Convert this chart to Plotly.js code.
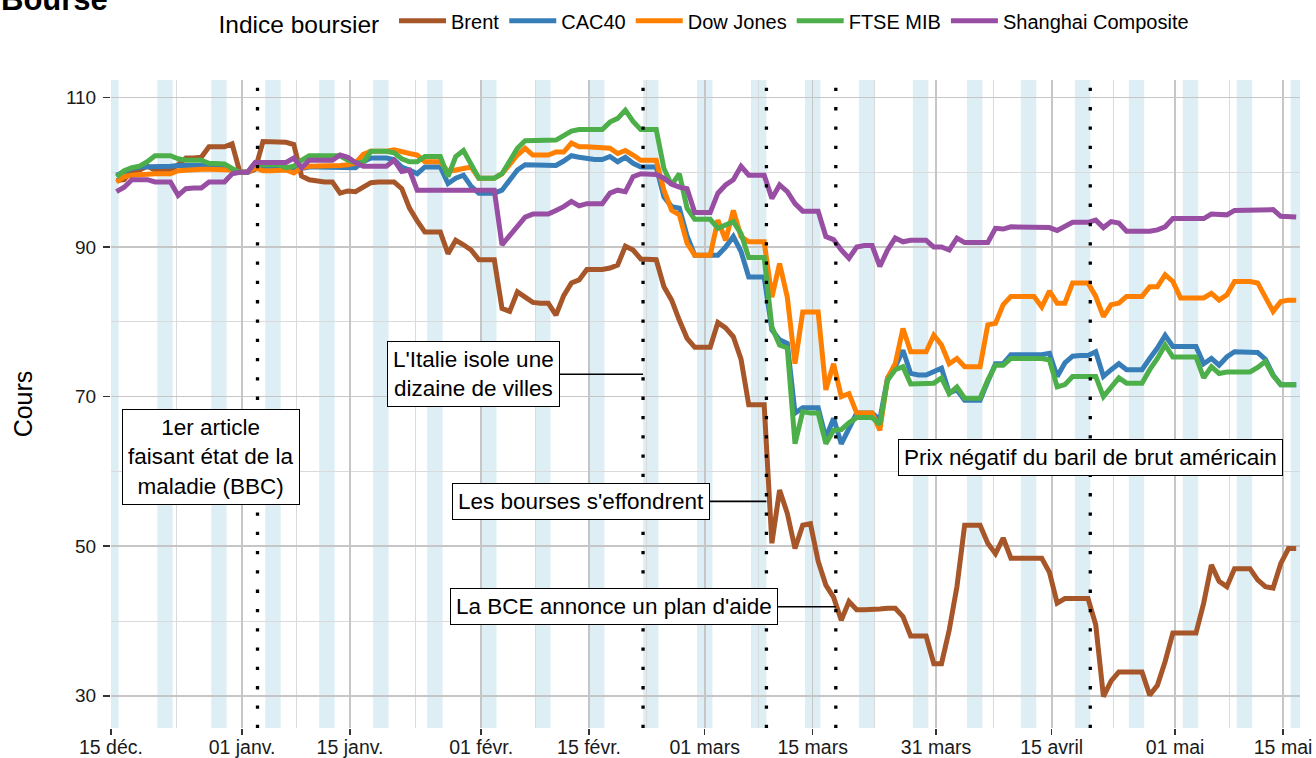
<!DOCTYPE html>
<html><head><meta charset="utf-8">
<script src="https://cdn.plot.ly/plotly-3.0.1.min.js"></script>
<style>html,body{margin:0;padding:0;background:#fff;}#chart{width:1316px;height:758px;}</style>
</head><body><div id="chart"></div>
<script>
const dates = [
"2019-12-15","2019-12-16","2019-12-17","2019-12-18","2019-12-19","2019-12-20","2019-12-21","2019-12-22","2019-12-23","2019-12-24","2019-12-25","2019-12-26","2019-12-27","2019-12-28","2019-12-29","2019-12-30","2019-12-31",
"2020-01-01","2020-01-02","2020-01-03","2020-01-04","2020-01-05","2020-01-06","2020-01-07","2020-01-08","2020-01-09","2020-01-10","2020-01-11","2020-01-12","2020-01-13","2020-01-14","2020-01-15","2020-01-16","2020-01-17","2020-01-18","2020-01-19","2020-01-20","2020-01-21","2020-01-22","2020-01-23","2020-01-24","2020-01-25","2020-01-26","2020-01-27","2020-01-28","2020-01-29","2020-01-30","2020-01-31",
"2020-02-01","2020-02-02","2020-02-03","2020-02-04","2020-02-05","2020-02-06","2020-02-07","2020-02-08","2020-02-09","2020-02-10","2020-02-11","2020-02-12","2020-02-13","2020-02-14","2020-02-15","2020-02-16","2020-02-17","2020-02-18","2020-02-19","2020-02-20","2020-02-21","2020-02-22","2020-02-23","2020-02-24","2020-02-25","2020-02-26","2020-02-27","2020-02-28","2020-02-29",
"2020-03-01","2020-03-02","2020-03-03","2020-03-04","2020-03-05","2020-03-06","2020-03-07","2020-03-08","2020-03-09","2020-03-10","2020-03-11","2020-03-12","2020-03-13","2020-03-14","2020-03-15","2020-03-16","2020-03-17","2020-03-18","2020-03-19","2020-03-20","2020-03-21","2020-03-22","2020-03-23","2020-03-24","2020-03-25","2020-03-26","2020-03-27","2020-03-28","2020-03-29","2020-03-30","2020-03-31",
"2020-04-01","2020-04-02","2020-04-03","2020-04-04","2020-04-05","2020-04-06","2020-04-07","2020-04-08","2020-04-09","2020-04-10","2020-04-11","2020-04-12","2020-04-13","2020-04-14","2020-04-15","2020-04-16","2020-04-17","2020-04-18","2020-04-19","2020-04-20","2020-04-21","2020-04-22","2020-04-23","2020-04-24","2020-04-25","2020-04-26","2020-04-27","2020-04-28","2020-04-29","2020-04-30",
"2020-05-01","2020-05-02","2020-05-03","2020-05-04","2020-05-05","2020-05-06","2020-05-07","2020-05-08","2020-05-09","2020-05-10","2020-05-11","2020-05-12","2020-05-13","2020-05-14","2020-05-15","2020-05-16"];

const brent = [
98.9,99.0,100.2,100.3,100.8,100.3,100.3,100.3,
101.0,101.9,101.9,102.0,103.4,103.4,103.4,103.8,
100.0,100.0,100.4,104.1,104.1,104.1,104.0,103.7,
99.5,99.0,98.8,98.7,98.7,97.2,97.5,97.4,
98.0,98.6,98.7,98.7,98.7,97.8,95.2,93.5,
92.0,92.0,92.0,89.1,90.9,90.3,89.6,88.3,
88.3,88.3,81.8,81.4,84.0,83.2,82.6,82.5,
82.5,80.9,83.5,85.2,85.6,87.0,87.0,87.0,
87.2,87.6,90.1,89.6,88.4,88.3,88.3,84.7,
82.9,80.2,77.8,76.6,76.6,76.6,79.9,79.2,
78.0,75.0,68.9,68.9,68.9,50.4,57.5,54.4,
49.7,52.8,53.0,48.0,44.8,43.2,40.1,42.6,
41.5,41.5,41.5,41.6,41.7,41.7,40.6,38.0,
38.0,38.0,34.3,34.3,38.8,44.6,52.8,52.8,
52.8,50.4,49.0,51.1,48.4,48.4,48.4,48.4,
48.4,46.5,42.4,43.0,43.0,43.0,43.0,39.5,
29.9,32.0,33.2,33.2,33.2,33.2,30.1,31.4,
34.6,38.4,38.4,38.4,38.4,42.4,47.5,45.3,
44.6,47.0,47.0,47.0,45.5,44.6,44.4,47.7,
49.7,49.7];

const cac40 = [
99.6,100.1,100.5,100.7,100.7,100.8,100.8,100.8,
100.9,100.9,100.9,101.0,100.9,100.9,100.9,100.4,
100.0,100.0,100.9,100.6,100.6,100.6,100.4,100.6,
100.5,100.7,100.7,100.7,100.7,100.7,100.7,100.6,
101.4,101.9,101.9,101.9,101.7,100.7,100.3,99.8,
100.7,100.7,100.7,98.5,99.2,99.6,98.1,97.2,
97.2,97.2,97.6,99.0,100.3,101.0,101.0,101.0,
101.0,100.9,101.5,102.2,102.0,101.8,101.7,101.7,
102.1,101.4,102.0,101.2,100.7,100.7,100.7,96.7,
95.4,95.2,91.5,88.9,88.9,88.9,88.9,90.0,
91.4,89.4,86.0,86.0,86.0,78.9,77.6,77.1,
67.8,68.5,68.5,68.5,64.5,67.1,63.7,65.8,
67.8,67.8,67.8,66.9,72.5,74.0,76.2,73.1,
72.9,72.9,73.3,73.8,70.5,70.9,69.5,69.5,
69.5,72.0,74.4,74.4,75.6,75.6,75.6,75.6,
75.6,75.8,72.7,74.5,75.4,75.5,75.5,76.0,
72.7,73.6,74.4,73.6,73.6,73.6,75.1,76.5,
78.2,76.7,76.7,76.7,76.7,74.4,75.1,74.2,
75.3,76.0,76.0,76.0,75.9,75.0,72.9,71.6,
71.6,71.6];

const dowJones = [
98.7,99.4,99.6,99.7,99.8,99.8,99.8,99.8,
100.2,100.3,100.3,100.4,100.4,100.4,100.4,100.3,
100.0,100.0,100.6,100.2,100.2,100.2,100.3,99.9,
100.6,100.8,100.8,100.8,100.8,100.9,101.0,101.2,
102.4,102.8,102.8,102.8,103.0,102.7,102.5,102.3,
101.4,101.4,101.4,100.1,100.3,100.5,100.7,99.2,
99.2,99.2,99.8,101.0,102.3,103.2,102.3,102.3,
102.3,102.7,102.7,103.9,103.4,103.4,103.3,103.3,
103.2,102.5,102.9,102.3,101.6,101.6,101.6,97.6,
94.9,94.3,90.5,88.9,88.9,88.9,93.6,90.9,
94.9,91.4,90.7,90.7,90.7,83.3,87.8,83.3,
74.4,81.3,81.3,81.3,70.9,74.4,70.0,70.4,
67.8,67.8,67.8,65.5,72.5,74.4,79.1,76.0,
76.0,76.0,78.2,76.9,74.4,75.1,74.0,74.0,
74.0,79.6,79.8,82.3,83.4,83.4,83.4,83.4,
82.0,84.1,82.5,82.5,85.2,85.2,85.2,83.4,
80.7,82.3,82.5,83.4,83.4,83.4,84.7,84.7,
86.3,85.4,83.2,83.2,83.2,83.2,83.8,82.9,
83.6,85.4,85.4,85.4,85.2,83.4,81.4,82.7,
82.9,82.9];

const ftseMib = [
99.4,100.2,100.6,100.8,101.4,102.2,102.2,102.2,
101.8,101.6,101.6,101.6,101.2,101.1,101.1,100.5,
100.0,100.0,101.3,101.0,101.0,101.0,100.6,100.8,
101.6,102.2,102.2,102.2,102.2,102.2,101.6,101.3,
101.3,102.8,102.8,102.8,102.6,101.8,101.4,101.4,
102.1,102.1,102.1,99.4,102.1,102.9,101.2,99.2,
99.2,99.2,99.8,101.4,103.2,104.2,104.2,104.2,
104.2,104.3,104.9,105.5,105.7,105.7,105.7,105.7,
106.7,107.2,108.3,106.8,105.7,105.7,105.7,100.5,
98.3,99.8,95.2,93.7,93.7,93.7,92.5,93.0,
93.4,91.8,88.6,88.6,88.6,79.3,76.9,76.5,
63.7,68.0,67.8,67.8,63.7,65.5,65.6,66.5,
67.2,67.2,67.2,66.3,72.2,73.6,74.0,71.7,
71.7,71.7,71.8,72.5,70.4,71.3,69.8,69.8,
69.8,72.2,74.2,74.2,75.1,75.1,75.1,75.1,
75.1,74.9,71.3,71.6,72.7,72.7,72.7,72.7,
70.0,71.3,72.5,71.8,71.8,71.8,73.6,75.1,
76.9,75.3,75.3,75.3,75.3,72.5,74.0,73.1,
73.3,73.3,73.3,73.3,73.9,74.7,72.8,71.6,
71.6,71.6];

const shanghai = [
97.4,98.0,99.0,99.0,99.0,98.7,98.7,98.7,
96.9,97.8,97.9,97.9,98.7,98.7,98.7,99.8,
100.0,100.0,101.3,101.3,101.3,101.3,101.3,101.9,
100.6,101.6,101.6,101.6,101.6,102.3,102.0,101.3,
100.8,100.8,100.8,100.8,101.6,100.1,100.3,97.6,
97.6,97.6,97.6,97.6,97.6,97.6,97.6,97.6,
97.6,97.6,90.3,91.6,92.7,94.0,94.4,94.4,
94.4,94.9,95.4,96.1,95.5,95.8,95.8,95.8,
97.2,97.6,97.4,99.4,99.8,99.7,99.7,99.2,
98.4,98.0,97.8,94.6,94.6,94.6,97.2,98.3,
99.0,100.8,99.6,99.6,99.6,96.5,98.3,97.4,
95.8,94.8,94.8,94.8,91.4,91.0,89.6,88.5,
90.0,90.2,90.2,87.4,89.6,91.2,90.7,90.9,
90.9,90.9,90.0,90.0,89.6,91.2,90.6,90.6,
90.6,90.6,92.5,92.4,92.7,92.7,92.7,92.7,
92.7,92.6,92.2,92.8,93.3,93.3,93.3,93.6,
92.6,93.4,93.2,92.1,92.1,92.1,92.1,92.3,
92.7,93.8,93.8,93.8,93.8,93.8,94.4,94.4,
94.3,94.9,94.9,94.9,94.9,94.9,95.0,94.1,
94.0,94.0];

const seriesNames = ["Brent","CAC40","Dow Jones","FTSE MIB","Shanghai Composite"];
const seriesValues = [brent, cac40, dowJones, ftseMib, shanghai];
const seriesColors = ["#A65628","#377EB8","#FF7F00","#4DAF4A","#984EA3"];

const weekendStarts = ["2019-12-14","2019-12-21","2019-12-28","2020-01-04","2020-01-11","2020-01-18","2020-01-25","2020-02-01","2020-02-08","2020-02-15","2020-02-22","2020-02-29","2020-03-07","2020-03-14","2020-03-21","2020-03-28","2020-04-04","2020-04-11","2020-04-18","2020-04-25","2020-05-02","2020-05-09","2020-05-16"];

const eventDates = ["2020-01-03","2020-02-22","2020-03-09","2020-03-18","2020-04-20"];
const eventLabels = ["1er article<br>faisant état de la<br>maladie (BBC)","L'Italie isole une<br>dizaine de villes","Les bourses s'effondrent","La BCE annonce un plan d'aide","Prix négatif du baril de brut américain"];

const xTickVals = ["2019-12-15","2020-01-01","2020-01-15","2020-02-01","2020-02-15","2020-03-01","2020-03-15","2020-03-31","2020-04-15","2020-05-01","2020-05-15"];
const xTickText = ["15 déc.","01 janv.","15 janv.","01 févr.","15 févr.","01 mars","15 mars","31 mars","15 avril","01 mai","15 mai"];
const xMinorVals = ["2019-12-23 12:00","2020-01-08","2020-01-23 12:00","2020-02-08","2020-02-22 12:00","2020-03-08","2020-03-23","2020-04-07 12:00","2020-04-23","2020-05-08"];

// label placement (styling): y value of the box centre, pixel offset of the box centre from the event line
const labelPlacement = [
  {y:61.9, dx:-46.5, arrow:false},
  {y:73.0, dx:-170, arrow:true},
  {y:56.0, dx:-185, arrow:true},
  {y:41.9, dx:-222, arrow:true},
  {y:61.9, dx:0, arrow:false}
];

const FONT = "Liberation Sans, Arial, Helvetica, sans-serif";
const xs = dates.map(d => d + " 17:00");

const traces = seriesNames.map((name, i) => ({
  type: "scatter", mode: "lines", name: name,
  x: xs, y: seriesValues[i],
  line: {color: seriesColors[i], width: 5, shape: "linear"},
  hoverinfo: "skip"
}));

function addDays(s, n) {
  const d = new Date(s + "T00:00:00Z");
  d.setUTCDate(d.getUTCDate() + n);
  return d.toISOString().slice(0, 10);
}

const shapes = [];
weekendStarts.forEach(s => {
  shapes.push({type: "rect", xref: "x", yref: "paper", x0: s, x1: addDays(s, 2), y0: 0, y1: 1,
    fillcolor: "rgba(173,216,230,0.42)", line: {width: 0}, layer: "below"});
});
eventDates.forEach(d => {
  shapes.push({type: "line", xref: "x", yref: "paper", x0: d, x1: d, y0: 0, y1: 1,
    line: {color: "#000", width: 3.3, dash: "3.3px,16px"}, layer: "above"});
});

const annotations = eventLabels.map((t, i) => {
  const p = labelPlacement[i];
  const a = {
    x: eventDates[i], y: p.y, xref: "x", yref: "y", text: t,
    font: {family: FONT, size: 22.5, color: "#000"},
    bgcolor: "#fff", bordercolor: "#000", borderwidth: 1, borderpad: 5,
    align: "center"
  };
  if (p.arrow) {
    Object.assign(a, {showarrow: true, ax: p.dx, ay: 0, axref: "pixel", ayref: "pixel",
      arrowhead: 0, arrowwidth: 1.6, arrowcolor: "#000", standoff: 0, startstandoff: 0});
  } else {
    Object.assign(a, {showarrow: false, xshift: p.dx});
  }
  return a;
});
annotations.push({
  text: "<b>Bourse</b>", xref: "paper", yref: "paper", x: 0, y: 1, xanchor: "left", yanchor: "bottom",
  xshift: -112, yshift: 61, showarrow: false, font: {family: FONT, size: 31, color: "#000"}
});

const layout = {
  width: 1316, height: 758,
  margin: {l: 111, r: 16, t: 80, b: 30, pad: 0, autoexpand: false},
  paper_bgcolor: "#fff", plot_bgcolor: "#fff",
  font: {family: FONT, color: "#1a1a1a"},
  showlegend: true,
  legend: {
    orientation: "h", x: 0.5, xanchor: "center", y: 1.089, yanchor: "middle",
    font: {family: FONT, size: 20, color: "#000"},
    title: {text: "Indice boursier ", font: {family: FONT, size: 24.5, color: "#000"}, side: "left"},
    itemwidth: 47, bgcolor: "rgba(0,0,0,0)"
  },
  xaxis: {
    type: "date", range: ["2019-12-15 00:00", "2020-05-17 04:48"],
    tickmode: "array", tickvals: xTickVals, ticktext: xTickText,
    tickfont: {family: FONT, size: 19.5, color: "#1a1a1a"},
    ticks: "outside", ticklen: 6, tickwidth: 1.5, tickcolor: "#333",
    ticklabelstandoff: -4,
    showgrid: true, gridcolor: "#c6c6c6", gridwidth: 1.6,
    minor: {tickmode: "array", tickvals: xMinorVals, showgrid: true, gridcolor: "#dadada", gridwidth: 1, ticks: ""},
    showline: false, zeroline: false, fixedrange: true, automargin: false
  },
  yaxis: {
    range: [25.7, 112.33],
    tickmode: "array", tickvals: [30, 50, 70, 90, 110],
    tickfont: {family: FONT, size: 19, color: "#1a1a1a"},
    ticks: "outside", ticklen: 7, tickwidth: 1.5, tickcolor: "#333",
    ticklabelstandoff: 3,
    showgrid: true, gridcolor: "#c6c6c6", gridwidth: 1.6,
    minor: {tickmode: "array", tickvals: [40, 60, 80, 100], showgrid: true, gridcolor: "#dadada", gridwidth: 1, ticks: ""},
    title: {text: "Cours", font: {family: FONT, size: 25, color: "#000"}, standoff: 26},
    showline: false, zeroline: false, fixedrange: true, automargin: false
  },
  shapes: shapes,
  annotations: annotations
};

Plotly.newPlot("chart", traces, layout, {displayModeBar: false, staticPlot: true});
</script>
</body></html>
